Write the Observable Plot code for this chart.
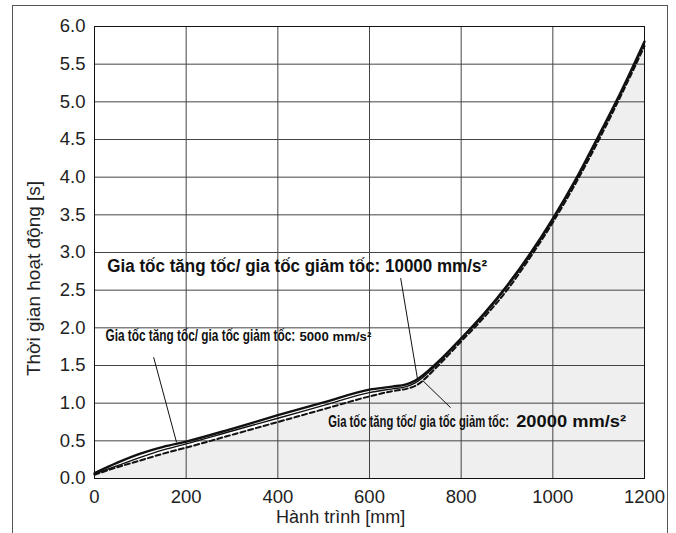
<!DOCTYPE html>
<html><head><meta charset="utf-8">
<script src="https://cdn.jsdelivr.net/npm/d3@7"></script>
<script src="https://cdn.jsdelivr.net/npm/@observablehq/plot@0.6"></script>
<style>
body{margin:0;background:#fff;}
#wrap{position:relative;width:676px;height:533px;overflow:hidden;}
#chart{position:absolute;left:0;top:0;}
#border{position:absolute;left:12px;top:5px;width:656px;height:540px;border:1px solid #555;box-sizing:border-box;pointer-events:none;}
</style></head><body>
<div id="wrap"><div id="chart"></div><div id="border"></div></div>
<script>
const strokeMm = [0, 50, 100, 150, 200, 300, 400, 500, 600, 650, 680, 700, 750, 800, 850, 900, 950, 1000, 1050, 1100, 1150, 1200];
const t5000  = [0.07, 0.21, 0.33, 0.42, 0.49, 0.66, 0.84, 1.01, 1.18, 1.22, 1.25, 1.30, 1.55, 1.86, 2.19, 2.56, 2.98, 3.45, 3.97, 4.55, 5.15, 5.80];
const t10000 = [0.06, 0.17, 0.28, 0.38, 0.46, 0.63, 0.80, 0.97, 1.14, 1.19, 1.22, 1.27, 1.53, 1.85, 2.17, 2.54, 2.96, 3.43, 3.95, 4.53, 5.13, 5.78];
const t20000 = [0.05, 0.15, 0.24, 0.33, 0.41, 0.58, 0.75, 0.92, 1.09, 1.16, 1.19, 1.23, 1.50, 1.82, 2.14, 2.50, 2.93, 3.40, 3.92, 4.49, 5.10, 5.74];
const xTicks = [0, 200, 400, 600, 800, 1000, 1200];
const yTicks = [0, 0.5, 1, 1.5, 2, 2.5, 3, 3.5, 4, 4.5, 5, 5.5, 6];
const xTitle = "Hành trình [mm]";
const yTitle = "Thời gian hoạt động [s]";
const labelMain = "Gia tốc tăng tốc/ gia tốc giảm tốc:";
const label10000 = "Gia tốc tăng tốc/ gia tốc giảm tốc: 10000 mm/s²";
const num5000 = "5000 mm/s²";
const num20000 = "20000 mm/s²";
// annotation anchors (data units); len = rendered width in px of the condensed label
const ann = [
  {key: "a10",  text: label10000, x: 28,  y: 2.735, size: 18,   len: 380},
  {key: "a5m",  text: labelMain,  x: 24,  y: 1.83,  size: 17,   len: 190},
  {key: "a5n",  text: num5000,    x: 447, y: 1.83,  size: 13,   len: 72},
  {key: "a20m", text: labelMain,  x: 510, y: 0.68,  size: 16.5, len: 181},
  {key: "a20n", text: num20000,   x: 920, y: 0.68,  size: 16.5, len: 110}
];
const leaders = [
  {x1: 668, y1: 2.66, x2: 705, y2: 1.31},
  {x1: 129, y1: 1.61, x2: 179, y2: 0.48},
  {x1: 777, y1: 0.94, x2: 716, y2: 1.30}
];

const rows = (ys) => strokeMm.map((x, i) => ({x, y: ys[i]}));

const textMarks = ann.map(a => Plot.text([a], {
  x: "x", y: "y", text: "text", textAnchor: "start", lineAnchor: "bottom",
  fontSize: a.size, fontWeight: "bold", fill: "#111",
  fontFamily: "'Liberation Sans Narrow', 'Arial Narrow', 'Liberation Sans', Arial, sans-serif",
  className: a.key
}));

const svg = Plot.plot({
  width: 676, height: 533,
  marginLeft: 94, marginRight: 32, marginTop: 26, marginBottom: 55,
  x: {domain: [0, 1200]},
  y: {domain: [0, 6]},
  style: {fontFamily: "'Liberation Sans', Arial, sans-serif", fontSize: "18px", color: "#222", background: "transparent"},
  marks: [
    Plot.areaY(rows(t20000), {x: "x", y: "y", fill: "#efefef", curve: "monotone-x"}),
    Plot.gridX(xTicks, {stroke: "#444", strokeOpacity: 1}),
    Plot.gridY(yTicks, {stroke: "#444", strokeOpacity: 1}),
    Plot.frame({stroke: "#111"}),
    Plot.axisX(xTicks, {tickSize: 0, tickPadding: 11, label: null, tickFormat: d3.format("d"), fontSize: 18.5}),
    Plot.axisY(yTicks, {tickSize: 0, tickPadding: 9, label: null, tickFormat: d3.format(".1f"), fontSize: 18.5}),
    Plot.line(rows(t20000), {x: "x", y: "y", stroke: "#111", strokeWidth: 2, strokeDasharray: "5,3", curve: "monotone-x"}),
    Plot.line(rows(t10000), {x: "x", y: "y", stroke: "#111", strokeWidth: 1.4, curve: "monotone-x"}),
    Plot.line(rows(t5000), {x: "x", y: "y", stroke: "#111", strokeWidth: 2.4, curve: "monotone-x"}),
    Plot.link(leaders, {x1: "x1", y1: "y1", x2: "x2", y2: "y2", stroke: "#111", strokeWidth: 1}),
    ...textMarks,
    Plot.text([xTitle], {x: 537, frameAnchor: "bottom", dy: 44, fontSize: 18, fill: "#222"}),
    Plot.text([yTitle], {x: -133, y: 2.655, rotate: -90, fontSize: 19, fill: "#222"})
  ]
});
document.getElementById("chart").appendChild(svg);
// condensed annotation labels: scale each text horizontally about its anchor to the reference width
ann.forEach(a => {
  d3.select(svg).selectAll(`g.${a.key} text`).each(function() {
    const natural = this.getComputedTextLength();
    const k = a.len / natural;
    let ax = 0, ay = 0;
    if (this.hasAttribute("x")) { ax = +this.getAttribute("x"); ay = +this.getAttribute("y"); this.removeAttribute("x"); this.removeAttribute("y"); }
    const prev = this.getAttribute("transform") || "";
    this.setAttribute("transform", `${prev} translate(${ax},${ay}) scale(${k},1)`.trim());
  });
});
</script>
</body></html>
